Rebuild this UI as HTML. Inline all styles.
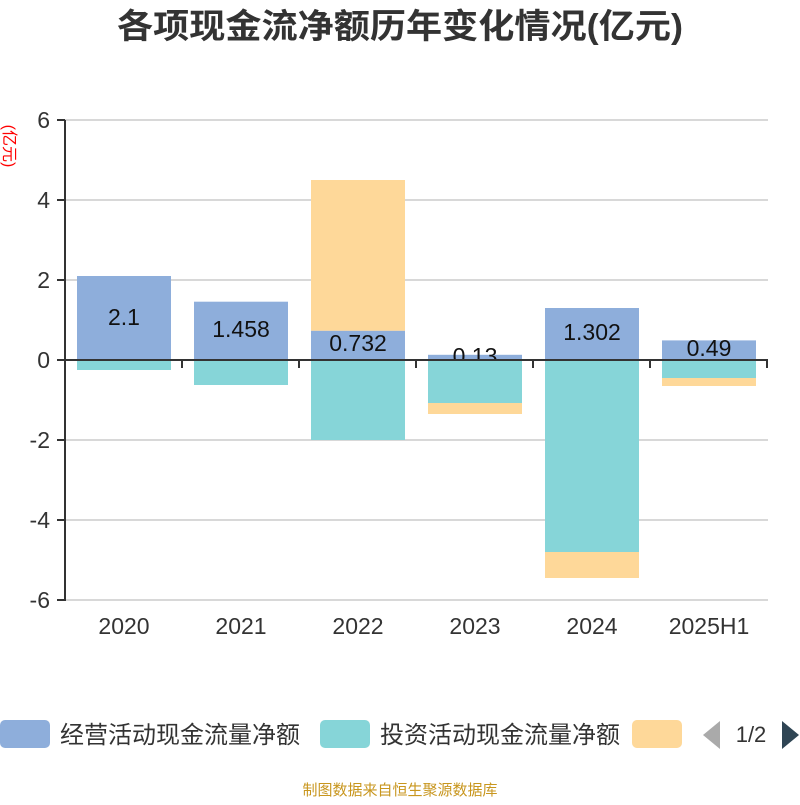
<!DOCTYPE html>
<html><head><meta charset="utf-8"><style>
body{margin:0;background:#fff;width:800px;height:800px;overflow:hidden;font-family:"Liberation Sans","Noto Sans CJK SC",sans-serif}
</style></head><body>
<svg width="800" height="800" xmlns="http://www.w3.org/2000/svg" font-family="Liberation Sans, Noto Sans CJK SC, sans-serif">
<text x="117" y="38" font-size="34" font-weight="bold" fill="#333" textLength="566" lengthAdjust="spacingAndGlyphs">各项现金流净额历年变化情况(亿元)</text>
<text transform="translate(4,146) rotate(90)" text-anchor="middle" font-size="16" fill="#f00">(亿元)</text>
<g stroke="#ccc" stroke-width="1.5">
<line x1="65" x2="768" y1="120" y2="120"/><line x1="65" x2="768" y1="200" y2="200"/><line x1="65" x2="768" y1="280" y2="280"/>
<line x1="65" x2="768" y1="440" y2="440"/><line x1="65" x2="768" y1="520" y2="520"/><line x1="65" x2="768" y1="600" y2="600"/>
</g>
<g font-size="23" fill="#333" text-anchor="end">
<text x="50" y="128">6</text><text x="50" y="208">4</text><text x="50" y="288">2</text><text x="50" y="368">0</text>
<text x="50" y="448">-2</text><text x="50" y="528">-4</text><text x="50" y="608">-6</text>
</g>
<g fill="#8eaedb">
<rect x="77" y="276" width="94" height="84"/>
<rect x="194" y="301.7" width="94" height="58.3"/>
<rect x="311" y="330.7" width="94" height="29.3"/>
<rect x="428" y="354.8" width="94" height="5.2"/>
<rect x="545" y="308" width="94" height="52"/>
<rect x="662" y="340.4" width="94" height="19.6"/>
</g>
<rect x="311" y="180" width="94" height="150.7" fill="#fed899"/>
<g font-size="23" fill="#111" text-anchor="middle">
<text x="124" y="325">2.1</text><text x="241" y="337">1.458</text><text x="358" y="351">0.732</text>
<text x="475" y="364">0.13</text><text x="592" y="340">1.302</text><text x="709" y="356">0.49</text>
</g>
<g fill="#86d5d8">
<rect x="77" y="360" width="94" height="10"/>
<rect x="194" y="360" width="94" height="25"/>
<rect x="311" y="360" width="94" height="80"/>
<rect x="428" y="360" width="94" height="43"/>
<rect x="545" y="360" width="94" height="192"/>
<rect x="662" y="360" width="94" height="18"/>
</g>
<g fill="#fed899">
<rect x="428" y="403" width="94" height="11"/>
<rect x="545" y="552" width="94" height="26"/>
<rect x="662" y="378" width="94" height="8"/>
</g>
<g stroke="#333" stroke-width="2">
<line x1="65" x2="65" y1="120" y2="601"/>
<line x1="65" x2="768" y1="360" y2="360"/>
<line x1="57" x2="65" y1="120" y2="120"/><line x1="57" x2="65" y1="200" y2="200"/><line x1="57" x2="65" y1="280" y2="280"/>
<line x1="57" x2="65" y1="360" y2="360"/><line x1="57" x2="65" y1="440" y2="440"/><line x1="57" x2="65" y1="520" y2="520"/><line x1="57" x2="65" y1="600" y2="600"/>
<line x1="182" x2="182" y1="360" y2="368"/><line x1="299" x2="299" y1="360" y2="368"/><line x1="416" x2="416" y1="360" y2="368"/>
<line x1="533" x2="533" y1="360" y2="368"/><line x1="650" x2="650" y1="360" y2="368"/><line x1="767" x2="767" y1="360" y2="368"/>
</g>
<g font-size="23" fill="#333" text-anchor="middle">
<text x="124" y="634">2020</text><text x="241" y="634">2021</text><text x="358" y="634">2022</text>
<text x="475" y="634">2023</text><text x="592" y="634">2024</text><text x="709" y="634">2025H1</text>
</g>
<rect x="0" y="720" width="50" height="28" rx="5" fill="#8eaedb"/>
<text x="60" y="743" font-size="24" fill="#333">经营活动现金流量净额</text>
<rect x="320" y="720" width="50" height="28" rx="5" fill="#86d5d8"/>
<text x="380" y="743" font-size="24" fill="#333">投资活动现金流量净额</text>
<rect x="632" y="720" width="50" height="28" rx="5" fill="#fed899"/>
<polygon points="720,721 720,749 703,735" fill="#aaa"/>
<text x="751" y="742" font-size="22" fill="#333" text-anchor="middle">1/2</text>
<polygon points="782,721 782,749 799,735" fill="#2f4554"/>
<text x="400" y="795" font-size="15" fill="#c8961e" text-anchor="middle">制图数据来自恒生聚源数据库</text>
</svg>
</body></html>
